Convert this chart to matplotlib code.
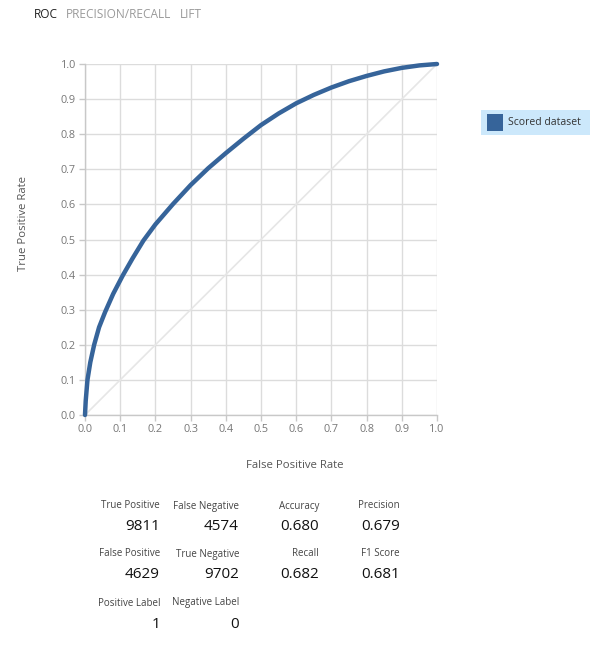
import matplotlib
matplotlib.use("Agg")
import matplotlib.pyplot as plt
from matplotlib.patches import Rectangle

plt.rcParams['font.family'] = ['Open Sans', 'DejaVu Sans']

fpr = [0, 0.002, 0.007, 0.015, 0.026, 0.04, 0.057, 0.08, 0.107, 0.135, 0.166, 0.2,
       0.25, 0.3, 0.35, 0.4, 0.45, 0.5, 0.55, 0.6, 0.65, 0.7, 0.75, 0.8, 0.85, 0.9, 0.95, 1.0]
tpr = [0, 0.04, 0.1, 0.15, 0.2, 0.25, 0.293, 0.345, 0.397, 0.446, 0.497, 0.543,
       0.601, 0.655, 0.703, 0.746, 0.787, 0.826, 0.859, 0.888, 0.912, 0.933, 0.951, 0.966,
       0.979, 0.989, 0.996, 1.0]
ticks = [0.0, 0.1, 0.2, 0.3, 0.4, 0.5, 0.6, 0.7, 0.8, 0.9, 1.0]
tabs = ["ROC", "PRECISION/RECALL", "LIFT"]
series_name = "Scored dataset"

metric_labels = [["True Positive", "False Negative", "Accuracy", "Precision"],
                 ["False Positive", "True Negative", "Recall", "F1 Score"],
                 ["Positive Label", "Negative Label"]]
metric_values = [["9811", "4574", "0.680", "0.679"],
                 ["4629", "9702", "0.682", "0.681"],
                 ["1", "0"]]

W, H = 600, 663
fig = plt.figure(figsize=(W / 100, H / 100), dpi=100)

def fx(px):
    return px / W

def fy(py):
    return 1 - py / H

ax = fig.add_axes([fx(85), fy(415), fx(437) - fx(85), fy(64) - fy(415)])
ax.set_xlim(0, 1)
ax.set_ylim(0, 1)
ax.set_xticks(ticks)
ax.set_yticks(ticks)
ax.set_xticklabels([f"{t:.1f}" for t in ticks])
ax.set_yticklabels([f"{t:.1f}" for t in ticks])
ax.grid(True, color="#dcdcdc", linewidth=1.0)
ax.set_axisbelow(True)
for s in ["top", "right"]:
    ax.spines[s].set_visible(False)
for s in ["left", "bottom"]:
    ax.spines[s].set_color("#c8c8c8")
    ax.spines[s].set_linewidth(1.0)
ax.tick_params(colors="#c8c8c8", labelcolor="#777777", labelsize=7.8, length=4, width=1, pad=2.5)

ax.plot([0, 1], [0, 1], color="#e6e6e6", linewidth=1.2, zorder=2)
ax.plot(fpr, tpr, color="#36649a", linewidth=3.2, solid_capstyle="round",
        solid_joinstyle="round", zorder=3, clip_on=False)

fig.text(fx(295), fy(465), "False Positive Rate", fontsize=8.2, color="#555555",
         ha="center", va="center")
fig.text(fx(24), fy(223.5), "True Positive Rate", fontsize=8.2, color="#555555",
         ha="center", va="center", rotation=90)

# tabs
tab_x = [34, 66, 180]
for i, (t, x) in enumerate(zip(tabs, tab_x)):
    fig.text(fx(x), fy(14), t, fontsize=8.6, color="#222222" if i == 0 else "#9a9a9a",
             ha="left", va="center")

# legend
fig.patches.append(Rectangle((fx(481), fy(135)), fx(590) - fx(481), fy(110) - fy(135),
                             transform=fig.transFigure, facecolor="#cce8fb", edgecolor="none"))
fig.patches.append(Rectangle((fx(487), fy(131)), fx(503) - fx(487), fy(114) - fy(131),
                             transform=fig.transFigure, facecolor="#36649a", edgecolor="none"))
fig.text(fx(508), fy(122.5), series_name, fontsize=7.5, color="#333333", ha="left", va="center")

# metrics
col_right = [160, 239, 319, 400]
label_y = [506, 554, 603]
value_y = [527, 575, 624]
for r in range(len(metric_labels)):
    for c, (lab, val) in enumerate(zip(metric_labels[r], metric_values[r])):
        fig.text(fx(col_right[c]), fy(label_y[r]), lab, fontsize=7, color="#444444",
                 ha="right", va="center")
        fig.text(fx(col_right[c]), fy(value_y[r]), val, fontsize=11, color="#111111",
                 ha="right", va="center")

fig.savefig("out.png", dpi=100)
